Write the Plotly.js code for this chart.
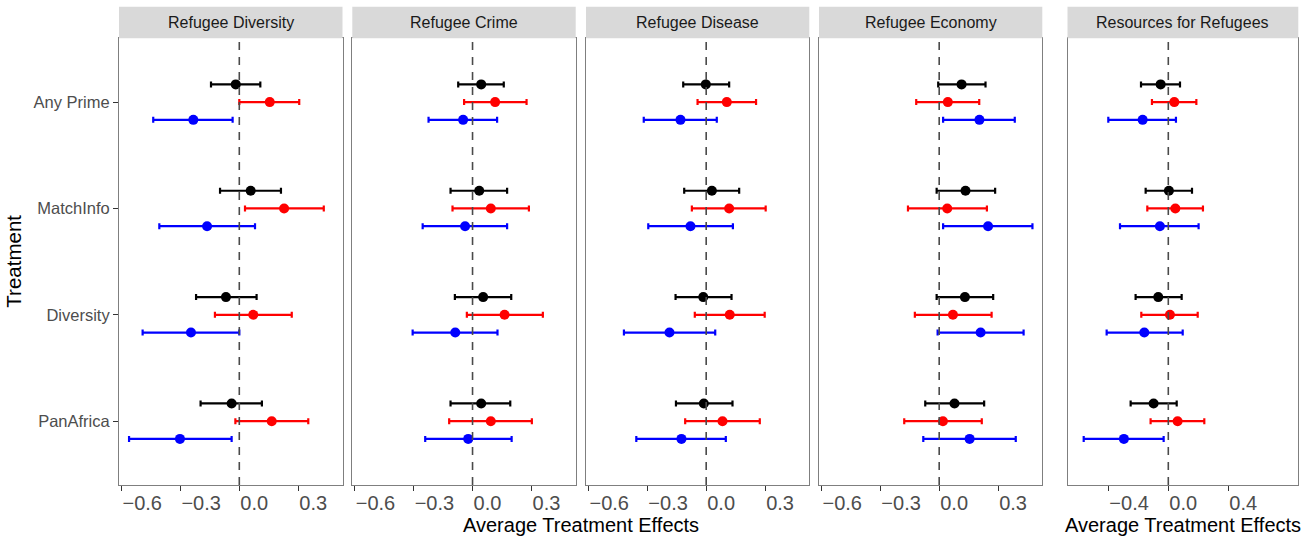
<!DOCTYPE html>
<html>
<head>
<meta charset="utf-8">
<script src="https://cdn.plot.ly/plotly-3.0.1.min.js"></script>
<style>html,body{margin:0;padding:0;background:#fff;}#chart{width:1312px;height:538px;}</style>
</head>
<body>
<div id="chart"></div>
<script>
// ---------- DATA ----------
const categories = ["Any Prime", "MatchInfo", "Diversity", "PanAfrica"];
const facets = ["Refugee Diversity", "Refugee Crime", "Refugee Disease", "Refugee Economy", "Resources for Refugees"];
const seriesNames = ["Overall", "Group 1", "Group 2"];
const seriesColors = ["#000000", "#FF0000", "#0000FF"];
const xTicks14 = [-0.6, -0.3, 0.0, 0.3];
const xTickText14 = ["\u22120.6", "\u22120.3", "0.0", "0.3"];
const xTicks5 = [-0.4, 0.0, 0.4];
const xTickText5 = ["\u22120.4", "0.0", "0.4"];

// Refugee Diversity
const divBlackEst = [-0.018, 0.058, -0.068, -0.039];
const divBlackLo  = [-0.144, -0.098, -0.220, -0.197];
const divBlackHi  = [0.107, 0.212, 0.088, 0.115];
const divRedEst   = [0.155, 0.228, 0.071, 0.165];
const divRedLo    = [0.000, 0.029, -0.124, -0.020];
const divRedHi    = [0.305, 0.430, 0.267, 0.351];
const divBlueEst  = [-0.234, -0.164, -0.246, -0.302];
const divBlueLo   = [-0.438, -0.407, -0.492, -0.561];
const divBlueHi   = [-0.034, 0.080, 0.000, -0.039];
// Refugee Crime
const crmBlackEst = [0.044, 0.034, 0.054, 0.044];
const crmBlackLo  = [-0.073, -0.112, -0.090, -0.112];
const crmBlackHi  = [0.159, 0.176, 0.197, 0.192];
const crmRedEst   = [0.115, 0.093, 0.163, 0.093];
const crmRedLo    = [-0.043, -0.102, -0.029, -0.119];
const crmRedHi    = [0.275, 0.287, 0.358, 0.302];
const crmBlueEst  = [-0.048, -0.038, -0.088, -0.022];
const crmBlueLo   = [-0.224, -0.254, -0.305, -0.241];
const crmBlueHi   = [0.125, 0.176, 0.127, 0.199];
// Refugee Disease
const disBlackEst = [-0.002, 0.029, -0.015, -0.012];
const disBlackLo  = [-0.117, -0.112, -0.156, -0.154];
const disBlackHi  = [0.117, 0.168, 0.129, 0.134];
const disRedEst   = [0.105, 0.117, 0.120, 0.083];
const disRedLo    = [-0.044, -0.073, -0.058, -0.107];
const disRedHi    = [0.254, 0.303, 0.298, 0.273];
const disBlueEst  = [-0.131, -0.080, -0.187, -0.126];
const disBlueLo   = [-0.318, -0.295, -0.419, -0.356];
const disBlueHi   = [0.054, 0.136, 0.046, 0.100];
// Refugee Economy
const ecoBlackEst = [0.114, 0.134, 0.131, 0.078];
const ecoBlackLo  = [-0.005, -0.013, -0.013, -0.071];
const ecoBlackHi  = [0.236, 0.285, 0.275, 0.229];
const ecoRedEst   = [0.044, 0.041, 0.070, 0.019];
const ecoRedLo    = [-0.117, -0.159, -0.124, -0.178];
const ecoRedHi    = [0.204, 0.243, 0.267, 0.217];
const ecoBlueEst  = [0.205, 0.249, 0.211, 0.155];
const ecoBlueLo   = [0.020, 0.020, -0.008, -0.081];
const ecoBlueHi   = [0.385, 0.475, 0.430, 0.390];
// Resources for Refugees
const resBlackEst = [-0.051, 0.004, -0.067, -0.098];
const resBlackLo  = [-0.182, -0.151, -0.218, -0.251];
const resBlackHi  = [0.078, 0.158, 0.089, 0.056];
const resRedEst   = [0.040, 0.047, 0.011, 0.062];
const resRedLo    = [-0.109, -0.140, -0.180, -0.118];
const resRedHi    = [0.187, 0.231, 0.196, 0.240];
const resBlueEst  = [-0.171, -0.056, -0.160, -0.296];
const resBlueLo   = [-0.400, -0.322, -0.411, -0.564];
const resBlueHi   = [0.051, 0.202, 0.096, -0.031];

const facetData = [
  [[divBlackEst, divBlackLo, divBlackHi], [divRedEst, divRedLo, divRedHi], [divBlueEst, divBlueLo, divBlueHi]],
  [[crmBlackEst, crmBlackLo, crmBlackHi], [crmRedEst, crmRedLo, crmRedHi], [crmBlueEst, crmBlueLo, crmBlueHi]],
  [[disBlackEst, disBlackLo, disBlackHi], [disRedEst, disRedLo, disRedHi], [disBlueEst, disBlueLo, disBlueHi]],
  [[ecoBlackEst, ecoBlackLo, ecoBlackHi], [ecoRedEst, ecoRedLo, ecoRedHi], [ecoBlueEst, ecoBlueLo, ecoBlueHi]],
  [[resBlackEst, resBlackLo, resBlackHi], [resRedEst, resRedLo, resRedHi], [resBlueEst, resBlueLo, resBlueHi]]
];

// ---------- LAYOUT GEOMETRY ----------
const W = 1312, H = 538;
const FONT = "Liberation Sans, Arial, Helvetica, sans-serif";
const panelPx = [[119, 342.5], [352.3, 575.7], [586, 809.3], [819, 1042.3], [1067.5, 1298.3]];
const xRanges = [[-0.6122, 0.5252], [-0.6122, 0.5252], [-0.6122, 0.5252], [-0.6122, 0.5252], [-0.672, 0.8667]];
const panelTop = 38.3, panelBot = 485, stripTop = 6.7;
const yDom = [1 - panelBot / H, 1 - panelTop / H];
const dodge = [1 / 6, 0, -1 / 6];

const traces = [];
const layout = {
  width: W, height: H,
  margin: {l: 0, r: 0, t: 0, b: 0},
  paper_bgcolor: "#ffffff", plot_bgcolor: "#ffffff",
  showlegend: false,
  font: {family: FONT, color: "#4D4D4D"},
  shapes: [], annotations: []
};

facets.forEach((name, f) => {
  const sfx = f === 0 ? "" : String(f + 1);
  const xa = "x" + sfx, ya = "y" + sfx;
  facetData[f].forEach((ser, s) => {
    const est = ser[0], lo = ser[1], hi = ser[2];
    traces.push({
      type: "scatter", mode: "markers",
      name: seriesNames[s],
      x: est,
      y: categories.map((c, i) => categories.length - i + dodge[s]),
      xaxis: xa, yaxis: ya,
      marker: {color: seriesColors[s], size: 10},
      error_x: {
        type: "data", symmetric: false,
        array: hi.map((h, i) => h - est[i]),
        arrayminus: lo.map((l, i) => est[i] - l),
        color: seriesColors[s], thickness: 2.2, width: 3
      },
      hoverinfo: "x+name"
    });
  });
  const isLast = f === 4;
  layout["xaxis" + sfx] = {
    domain: [panelPx[f][0] / W, panelPx[f][1] / W],
    range: xRanges[f], anchor: ya,
    tickvals: isLast ? xTicks5 : xTicks14,
    ticktext: isLast ? xTickText5 : xTickText14,
    ticks: "outside", ticklen: 5, tickwidth: 1.1, tickcolor: "#333333",
    ticklabelposition: "outside right",
    tickfont: {size: 20, color: "#4D4D4D", family: FONT},
    showgrid: false, zeroline: false,
    showline: true, mirror: true, linecolor: "#7F7F7F", linewidth: 1
  };
  layout["yaxis" + sfx] = {
    domain: yDom, range: [0.4, 4.6], anchor: xa,
    tickvals: categories.map((c, i) => categories.length - i),
    ticktext: categories,
    showticklabels: f === 0,
    ticks: f === 0 ? "outside" : "",
    ticklen: 5, tickwidth: 1.1, tickcolor: "#333333",
    tickfont: {size: 16.5, color: "#4D4D4D", family: FONT},
    showgrid: false, zeroline: false,
    showline: true, mirror: true, linecolor: "#7F7F7F", linewidth: 1
  };
  // dashed zero line
  layout.shapes.push({
    type: "line", xref: xa, yref: ya + " domain", x0: 0, x1: 0, y0: 0, y1: 1,
    line: {color: "#4A4A4A", width: 1.6, dash: "8px,7px"}, layer: "above"
  });
  // strip
  layout.shapes.push({
    type: "rect", xref: xa + " domain", yref: "paper",
    x0: 0, x1: 1, y0: 1 - panelTop / H, y1: 1 - stripTop / H,
    fillcolor: "#D9D9D9", line: {width: 0}, layer: "above"
  });
  layout.annotations.push({
    text: name, xref: xa + " domain", yref: "paper",
    x: 0.5, y: 1 - (panelTop + stripTop) / 2 / H,
    xanchor: "center", yanchor: "middle", showarrow: false,
    font: {size: 16, color: "#1A1A1A", family: FONT}
  });
});

// axis titles
layout.annotations.push({
  text: "Average Treatment Effects", xref: "paper", yref: "paper",
  x: (panelPx[0][0] + panelPx[3][1]) / 2 / W, y: 1 - 525 / H,
  xanchor: "center", yanchor: "middle", showarrow: false,
  font: {size: 20, color: "#000000", family: FONT}
});
layout.annotations.push({
  text: "Average Treatment Effects", xref: "paper", yref: "paper",
  x: (panelPx[4][0] + panelPx[4][1]) / 2 / W, y: 1 - 525 / H,
  xanchor: "center", yanchor: "middle", showarrow: false,
  font: {size: 20, color: "#000000", family: FONT}
});
layout.annotations.push({
  text: "Treatment", xref: "paper", yref: "paper",
  x: 14 / W, y: 1 - ((panelTop + panelBot) / 2) / H,
  xanchor: "center", yanchor: "middle", showarrow: false, textangle: -90,
  font: {size: 20.5, color: "#000000", family: FONT}
});

Plotly.newPlot("chart", traces, layout, {displayModeBar: false, staticPlot: true});
</script>
</body>
</html>
